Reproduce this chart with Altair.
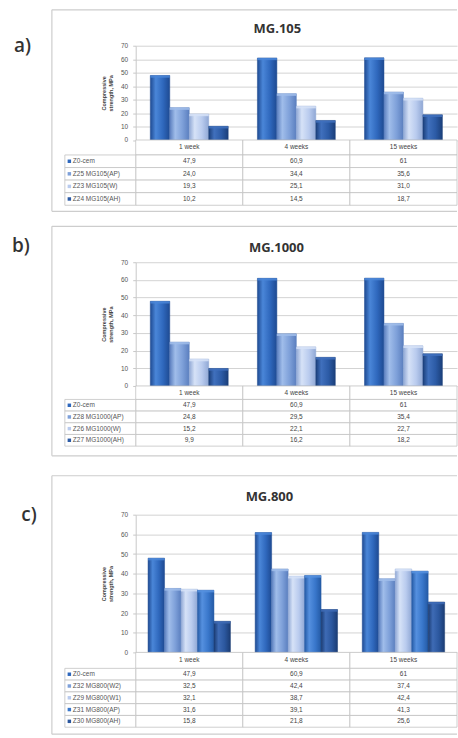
import altair as alt
import pandas as pd

weeks = ["1 week", "4 weeks", "15 weeks"]

# a) MG.105
a_series = ["Z0-cem", "Z25 MG105(AP)", "Z23 MG105(W)", "Z24 MG105(AH)"]
a_z0 = ["47,9", "60,9", "61"]
a_z25 = ["24,0", "34,4", "35,6"]
a_z23 = ["19,3", "25,1", "31,0"]
a_z24 = ["10,2", "14,5", "18,7"]

# b) MG.1000
b_series = ["Z0-cem", "Z28 MG1000(AP)", "Z26 MG1000(W)", "Z27 MG1000(AH)"]
b_z0 = ["47,9", "60,9", "61"]
b_z28 = ["24,8", "29,5", "35,4"]
b_z26 = ["15,2", "22,1", "22,7"]
b_z27 = ["9,9", "16,2", "18,2"]

# c) MG.800
c_series = ["Z0-cem", "Z32 MG800(W2)", "Z29 MG800(W1)", "Z31 MG800(AP)", "Z30 MG800(AH)"]
c_z0 = ["47,9", "60,9", "61"]
c_z32 = ["32,5", "42,4", "37,4"]
c_z29 = ["32,1", "38,7", "42,4"]
c_z31 = ["31,6", "39,1", "41,3"]
c_z30 = ["15,8", "21,8", "25,6"]

# colour palettes: (mid, edge, highlight)
DARK = ("#2f68bd", "#1e4a92", "#4a86d8")
MED = ("#7ea0d9", "#5b7fbf", "#a0bdea")
LIGHT = ("#b9cbee", "#90a8d5", "#d6e2f7")
NAVY = ("#2c5ba6", "#1b3f7a", "#4070bd")
BRIGHT = ("#3977cb", "#245aa5", "#5590df")
NAVY2 = ("#2b579e", "#1b3c73", "#3e6bb5")

X0 = 136
W = 322
FONT = "Liberation Sans"


def make_df(series, cols):
    rows = []
    for s, vals in zip(series, cols):
        for w, lab in zip(weeks, vals):
            rows.append(dict(week=w, series=s, label=lab,
                             value=float(lab.replace(",", "."))))
    return pd.DataFrame(rows)


def grad(p):
    mid, edge, hi = p
    return alt.Gradient(
        gradient="linear", x1=0, x2=1, y1=0, y2=0,
        stops=[alt.GradientStop(color=edge, offset=0),
               alt.GradientStop(color=hi, offset=0.28),
               alt.GradientStop(color=mid, offset=0.65),
               alt.GradientStop(color=edge, offset=1)])


def panel(letter, title, series, cols, pals, g):
    df = make_df(series, cols)
    bh, hh, rh = g["bars_h"], g["header_h"], g["row_h"]
    total = bh + hh + rh * len(series)
    cap = 2.2 * 70.0 / bh
    one = pd.DataFrame({"k": [0]})
    xenc = alt.X("week:N", scale=alt.Scale(domain=weeks, paddingInner=0, paddingOuter=0), axis=None)
    xoff = alt.XOffset("series:N", scale=alt.Scale(domain=series, paddingInner=0, paddingOuter=0.75))
    yscale = alt.Scale(domain=[0, 70], range=[bh, 0], nice=False)
    yrow = alt.Y("series:N", scale=alt.Scale(domain=series, range=[bh + hh, total],
                                             paddingInner=0, paddingOuter=0), axis=None)
    yhead = alt.Y("row:N", scale=alt.Scale(domain=["h"], range=[bh, bh + hh],
                                           paddingInner=0, paddingOuter=0), axis=None)
    base = alt.Chart(one)
    layers = []
    layers.append(base.mark_rect(fill="white", opacity=0).encode(
        x=alt.value(-X0), x2=alt.value(W), y=alt.value(g["bg_top"]), y2=alt.value(g["bg_bottom"])))
    fc = "#cdcdcd"
    layers.append(base.mark_rule(color=fc, strokeWidth=1.2).encode(
        x=alt.value(-84), x2=alt.value(W), y=alt.value(g["frame_top"])))
    layers.append(base.mark_rule(color=fc, strokeWidth=1.2).encode(
        x=alt.value(-84), x2=alt.value(W), y=alt.value(g["frame_bottom"])))
    layers.append(base.mark_rule(color=fc, strokeWidth=1.2).encode(
        x=alt.value(-84), y=alt.value(g["frame_top"]), y2=alt.value(g["frame_bottom"])))
    layers.append(base.mark_text(text=letter, fontSize=19, fontWeight=600, font="Open Sans",
                                 color="#333333", align="center", baseline="middle").encode(
        x=alt.value(g["letter_x"]), y=alt.value(g["letter_y"])))
    layers.append(base.mark_text(text=title, fontSize=13, fontWeight="bold", font="Open Sans",
                                 color="#333333", align="center", baseline="middle").encode(
        x=alt.value(g["title_x"]), y=alt.value(g["title_y"])))

    for i, (s, p) in enumerate(zip(series, pals)):
        axis = None
        if i == 0:
            axis = alt.Axis(values=list(range(0, 71, 10)), grid=True, gridColor="#d3d3d3",
                            domain=True, domainColor="#c8c8c8", ticks=True, tickSize=3,
                            tickColor="#c8c8c8", labelFontSize=6.5, labelColor="#555555",
                            labelFont=FONT, labelPadding=5,
                            title=["Compressive", "strength, MPa"], titleFontSize=5.5,
                            titleFontWeight="bold", titleColor="#444444", titleFont=FONT,
                            titlePadding=7)
        layers.append(alt.Chart(df).transform_filter(alt.datum.series == s).mark_bar(
            color=grad(p), stroke=p[1], strokeWidth=0.5).encode(
            x=xenc, xOffset=xoff, y=alt.Y("value:Q", scale=yscale, axis=axis)))
        # lighter bevel cap on top of each bar
        layers.append(alt.Chart(df).transform_filter(alt.datum.series == s).transform_calculate(
            capbot=f"datum.value - {cap}").mark_bar(
            color=p[2], opacity=0.85).encode(
            x=xenc, xOffset=xoff, y=alt.Y("value:Q", scale=yscale, axis=None),
            y2="capbot:Q"))

    hdf = pd.DataFrame({"week": weeks, "row": ["h"] * 3})
    sdf = pd.DataFrame({"series": series})
    tc = "#c3c3c3"
    layers.append(alt.Chart(hdf).mark_rect(fill="white", stroke=tc, strokeWidth=0.8).encode(
        x=xenc, y=yhead))
    layers.append(alt.Chart(hdf).mark_text(fontSize=6.5, font=FONT, color="#444444").encode(
        x=xenc, y=yhead, text="week:N"))
    layers.append(alt.Chart(df).mark_rect(fill="white", stroke=tc, strokeWidth=0.8).encode(
        x=xenc, y=yrow))
    layers.append(alt.Chart(df).mark_text(fontSize=6.5, font=FONT, color="#444444").encode(
        x=xenc, y=yrow, text="label:N"))
    layers.append(alt.Chart(sdf).mark_rect(fill="white", stroke=tc, strokeWidth=0.8).encode(
        x=alt.value(-71), x2=alt.value(0), y=yrow))
    layers.append(alt.Chart(sdf).mark_square(size=12, opacity=1, filled=True).encode(
        x=alt.value(-66.5), y=yrow,
        color=alt.Color("series:N", scale=alt.Scale(domain=series, range=[p[0] for p in pals]),
                        legend=None)))
    layers.append(alt.Chart(sdf).mark_text(fontSize=6.5, font=FONT, color="#555555",
                                           align="left").encode(
        x=alt.value(-63), y=yrow, text="series:N"))

    return alt.layer(*layers).resolve_scale(y="independent").properties(width=W, height=total)


pa = panel("a)", "MG.105", a_series, [a_z0, a_z25, a_z23, a_z24], [DARK, MED, LIGHT, NAVY],
           dict(bars_h=94.5, header_h=15, row_h=12.6, bg_top=-45, bg_bottom=173,
                frame_top=-36, frame_bottom=166, letter_x=-113.5, letter_y=0,
                title_x=142, title_y=-17))
pb = panel("b)", "MG.1000", b_series, [b_z0, b_z28, b_z26, b_z27], [DARK, MED, LIGHT, NAVY],
           dict(bars_h=124, header_h=13.5, row_h=11.7, bg_top=-44, bg_bottom=205,
                frame_top=-36, frame_bottom=194, letter_x=-115, letter_y=-16,
                title_x=141, title_y=-14))
pc = panel("c)", "MG.800", c_series, [c_z0, c_z32, c_z29, c_z31, c_z30],
           [DARK, MED, LIGHT, BRIGHT, NAVY2],
           dict(bars_h=138, header_h=16, row_h=11.8, bg_top=-48, bg_bottom=223,
                frame_top=-39, frame_bottom=220, letter_x=-107, letter_y=0,
                title_x=134, title_y=-18))

chart = alt.vconcat(pa, pb, pc, spacing=0).resolve_scale(
    x="independent", y="independent", xOffset="independent", color="independent"
).properties(
    padding={"left": 0, "right": 0, "top": 0, "bottom": 0}, background="white"
).configure_view(stroke=None)

chart.save("out.html", embed_options={"renderer": "svg", "actions": False})
